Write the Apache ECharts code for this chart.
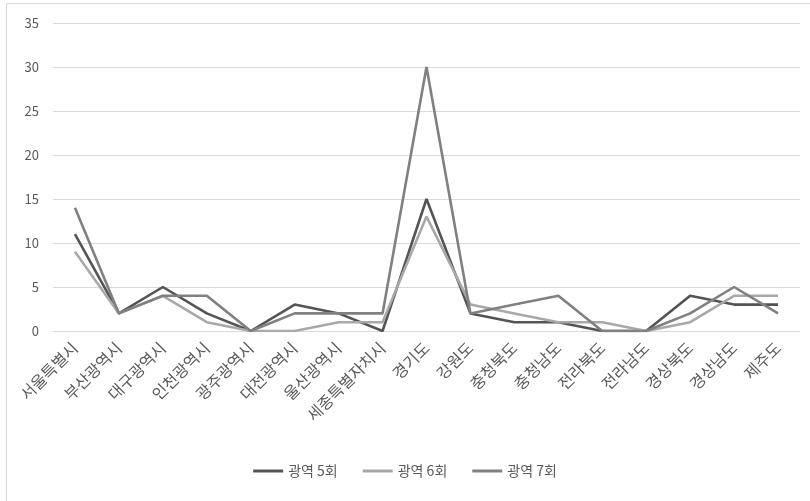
<!DOCTYPE html>
<html>
<head>
<meta charset="utf-8">
<script src="https://cdn.jsdelivr.net/npm/echarts@6/dist/echarts.min.js"></script>
<style>html,body{margin:0;padding:0;background:#fff;}#c{width:810px;height:501px;}</style>
</head>
<body>
<div id="c"></div>
<script>
const categories = ['서울특별시','부산광역시','대구광역시','인천광역시','광주광역시','대전광역시','울산광역시','세종특별자치시','경기도','강원도','충청북도','충청남도','전라북도','전라남도','경상북도','경상남도','제주도'];
const s5 = [11, 2, 5, 2, 0, 3, 2, 0, 15, 2, 1, 1, 0, 0, 4, 3, 3];
const s6 = [9, 2, 4, 1, 0, 0, 1, 1, 13, 3, 2, 1, 1, 0, 1, 4, 4];
const s7 = [14, 2, 4, 4, 0, 2, 2, 2, 30, 2, 3, 4, 0, 0, 2, 5, 2];
const yTicks = [0, 5, 10, 15, 20, 25, 30, 35];
const names = ['광역 5회', '광역 6회', '광역 7회'];
const colors = ['#545454', '#a8a8a8', '#808080'];
const font = '"Noto Sans CJK KR", "Noto Sans", sans-serif';

const chart = echarts.init(document.getElementById('c'), null, {renderer: 'canvas'});
const mk = (name, data, color) => ({
  name, type: 'line', data, symbol: 'none',
  lineStyle: {color, width: 2.6}, itemStyle: {color}
});
chart.setOption({
  animation: false,
  textStyle: {fontFamily: font},
  graphic: [{type: 'rect', shape: {x: 6.5, y: 3.5, width: 900, height: 600}, style: {fill: 'none', stroke: '#d9d9d9', lineWidth: 1}}],
  grid: {left: 53, right: 10, top: 23, bottom: 170, containLabel: false},
  legend: {
    data: names, bottom: 18, left: 'center', itemWidth: 30, itemHeight: 3, itemGap: 25,
    icon: 'rect',
    textStyle: {color: '#595959', fontSize: 14, fontFamily: font}
  },
  xAxis: {
    type: 'category', data: categories, boundaryGap: true,
    axisLine: {show: true, lineStyle: {color: '#d9d9d9'}},
    axisTick: {show: false},
    axisLabel: {rotate: 45, interval: 0, color: '#595959', fontSize: 16, margin: 14, fontFamily: font}
  },
  yAxis: {
    type: 'value', min: yTicks[0], max: yTicks[yTicks.length - 1], interval: 5,
    axisLine: {show: false}, axisTick: {show: false},
    axisLabel: {color: '#595959', fontSize: 13, margin: 14, fontFamily: font},
    splitLine: {lineStyle: {color: '#d9d9d9', width: 1}}
  },
  series: [mk(names[0], s5, colors[0]), mk(names[1], s6, colors[1]), mk(names[2], s7, colors[2])]
});
</script>
</body>
</html>
